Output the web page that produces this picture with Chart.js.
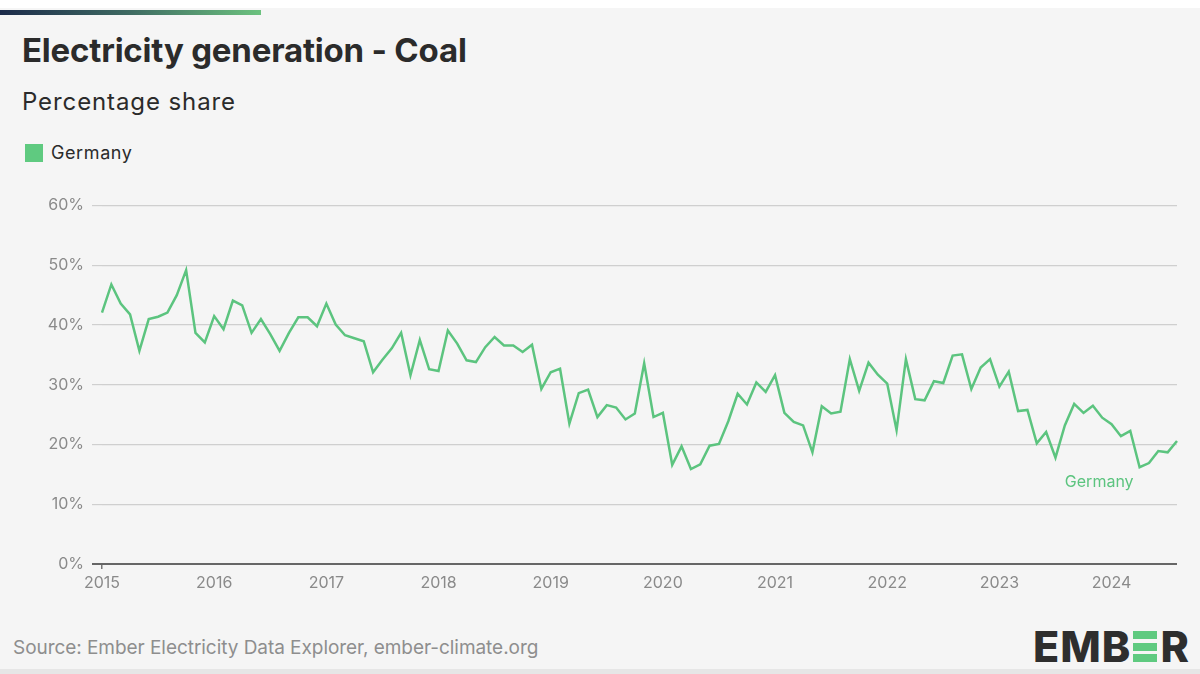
<!DOCTYPE html>
<html>
<head>
<meta charset="utf-8">
<script src="https://cdn.jsdelivr.net/npm/chart.js@4.4.1/dist/chart.umd.min.js"></script>
<style>
  html, body { margin: 0; padding: 0; }
  body { width: 1200px; height: 674px; background: #f5f5f5; position: relative; overflow: hidden; font-family: Inter, "Noto Sans", sans-serif; }
  #topstrip { position: absolute; left: 0; top: 0; width: 1200px; height: 8px; background: #fff; }
  #bar { position: absolute; left: 0; top: 10px; width: 261px; height: 5px; background: linear-gradient(90deg, #1c2b4a 0%, #3f6b62 50%, #6cc27f 100%); }
  #title { position: absolute; left: 22px; top: 30px; font-size: 33px; font-weight: 650; color: #2b2b2b; letter-spacing: -0.2px; }
  #subtitle { position: absolute; left: 22px; top: 87px; font-size: 24px; color: #2b2b2b; letter-spacing: 0.9px; }
  #legend { position: absolute; left: 25px; top: 143px; font-size: 18px; color: #2b2b2b; }
  #legend .sw { position: absolute; left: 0; top: 1px; width: 18px; height: 18px; background: #5fca80; }
  #legend .lb { position: absolute; left: 26px; top: -1px; white-space: nowrap; letter-spacing: 0.6px; }
  #wrap { position: absolute; left: 0; top: 188px; width: 1180px; height: 412px; }
  #source { position: absolute; left: 13px; top: 636px; font-size: 19px; color: #8e8e8e; letter-spacing: -0.05px; }
  #logo { position: absolute; left: 1033px; top: 620px; font-size: 43px; font-weight: 800; color: #2e2e2e; white-space: nowrap; letter-spacing: 1px; }
  #logo .e { display: inline-block; width: 24px; height: 31px; position: relative; margin: 0 3px 0 2px; vertical-align: baseline; }
  #logo .e i { position: absolute; left: 0; width: 24px; height: 8px; background: #5fca80; }
  #bottomline { position: absolute; left: 0; top: 669px; width: 1200px; height: 5px; background: #e6e6e6; }
</style>
</head>
<body>
<div id="topstrip"></div>
<div id="bar"></div>
<div id="title">Electricity generation - Coal</div>
<div id="subtitle">Percentage share</div>
<div id="legend"><span class="sw"></span><span class="lb">Germany</span></div>
<div id="wrap"><canvas id="chart"></canvas></div>
<div id="source">Source: Ember Electricity Data Explorer, ember-climate.org</div>
<div id="logo">EMB<span class="e"><i style="top:0"></i><i style="top:11.5px"></i><i style="top:23px"></i></span>R</div>
<div id="bottomline"></div>
<script>
// monthly coal share for Germany, Jan 2015 .. Aug 2024
const years = [2015, 2016, 2017, 2018, 2019, 2020, 2021, 2022, 2023, 2024];
const coal2015 = [42.1, 46.8, 43.6, 41.8, 35.7, 41.0, 41.4, 42.1, 45.0, 49.2, 38.7, 37.1];
const coal2016 = [41.5, 39.3, 44.1, 43.3, 38.7, 41.0, 38.5, 35.7, 38.7, 41.3, 41.3, 39.8];
const coal2017 = [43.6, 40.1, 38.3, 37.8, 37.3, 32.1, 34.2, 36.1, 38.7, 31.6, 37.5, 32.6];
const coal2018 = [32.3, 39.1, 36.9, 34.1, 33.8, 36.3, 38.0, 36.6, 36.6, 35.5, 36.7, 29.3];
const coal2019 = [32.1, 32.7, 23.5, 28.6, 29.2, 24.6, 26.6, 26.2, 24.2, 25.2, 33.6, 24.6];
const coal2020 = [25.3, 16.6, 19.7, 15.9, 16.7, 19.8, 20.1, 23.9, 28.5, 26.7, 30.4, 28.8];
const coal2021 = [31.6, 25.3, 23.8, 23.2, 18.7, 26.4, 25.2, 25.5, 34.3, 29.0, 33.7, 31.7];
const coal2022 = [30.2, 22.4, 34.3, 27.6, 27.4, 30.6, 30.3, 34.9, 35.1, 29.3, 32.9, 34.3];
const coal2023 = [29.7, 32.2, 25.6, 25.8, 20.2, 22.1, 17.8, 23.2, 26.8, 25.3, 26.5, 24.5];
const coal2024 = [23.4, 21.4, 22.3, 16.2, 16.9, 18.9, 18.7, 20.6];
const yTicks = [0, 10, 20, 30, 40, 50, 60];

const byYear = [coal2015, coal2016, coal2017, coal2018, coal2019, coal2020, coal2021, coal2022, coal2023, coal2024];
const labels = [];
const values = [];
byYear.forEach((arr, i) => {
  arr.forEach((v, m) => {
    labels.push(years[i] + '-' + String(m + 1).padStart(2, '0'));
    values.push(v);
  });
});

const lineColor = '#5cc47f';
const tickColor = '#8a8a8a';

// series name written under the end of the line
const endLabel = {
  id: 'endLabel',
  afterDatasetsDraw(chart) {
    const xs = chart.scales.x, ys = chart.scales.y;
    const c = chart.ctx;
    c.save();
    c.font = '16px Inter, "Noto Sans", sans-serif';
    c.fillStyle = lineColor;
    c.textAlign = 'center';
    c.textBaseline = 'middle';
    c.fillText('Germany', xs.getPixelForValue(values.length - 9) - 3, ys.getPixelForValue(13.7));
    c.restore();
  }
};

new Chart(document.getElementById('chart'), {
  type: 'line',
  data: {
    labels: labels,
    datasets: [{
      label: 'Germany',
      data: values,
      borderColor: lineColor,
      borderWidth: 2.5,
      pointRadius: 0,
      tension: 0,
      fill: false
    }]
  },
  options: {
    responsive: true,
    maintainAspectRatio: false,
    animation: false,
    layout: { padding: { top: 10, right: 3, left: 0, bottom: 0 } },
    plugins: { legend: { display: false }, tooltip: { enabled: false } },
    scales: {
      x: {
        type: 'category',
        grid: {
          drawOnChartArea: false,
          drawTicks: true,
          tickLength: 5,
          lineWidth: 1.5,
          color: ctx => (ctx.index % 12 === 0 ? '#777' : 'rgba(0,0,0,0)')
        },
        border: { display: false },
        ticks: {
          autoSkip: false,
          maxRotation: 0,
          padding: 5,
          color: tickColor,
          font: { family: 'Inter, "Noto Sans", sans-serif', size: 16 },
          callback: function (v, i) {
            const l = labels[i];
            return l.endsWith('-01') ? l.slice(0, 4) : null;
          }
        },
        afterFit: s => { s.height = 36; }
      },
      y: {
        min: 0,
        max: 60,
        afterBuildTicks: s => { s.ticks = yTicks.map(v => ({ value: v })); },
        grid: {
          color: ctx => (ctx.tick && ctx.tick.value === 0 ? '#666' : '#cfcfcf'),
          lineWidth: ctx => (ctx.tick && ctx.tick.value === 0 ? 2 : 1.2),
          tickLength: 10
        },
        border: { display: false },
        ticks: {
          padding: 8,
          color: tickColor,
          font: { family: 'Inter, "Noto Sans", sans-serif', size: 16 },
          callback: v => v + '%'
        },
        afterFit: s => { s.width = 102; }
      }
    }
  },
  plugins: [endLabel]
});
</script>
</body>
</html>
